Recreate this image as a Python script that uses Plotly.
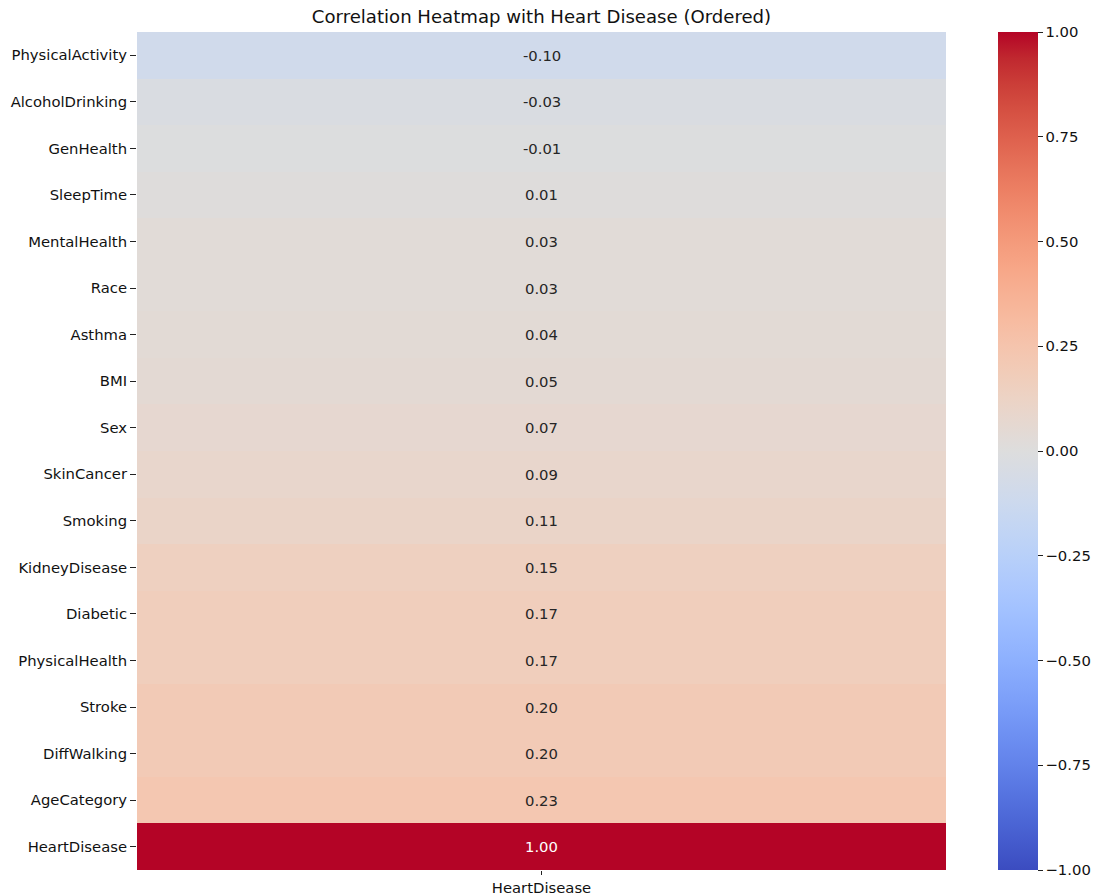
import plotly.graph_objects as go

# Correlation of each feature with HeartDisease, ordered ascending
features = [
    "PhysicalActivity", "AlcoholDrinking", "GenHealth", "SleepTime",
    "MentalHealth", "Race", "Asthma", "BMI", "Sex", "SkinCancer",
    "Smoking", "KidneyDisease", "Diabetic", "PhysicalHealth", "Stroke",
    "DiffWalking", "AgeCategory", "HeartDisease",
]
corr_values = [
    -0.10, -0.03, -0.01, 0.01, 0.03, 0.03, 0.04, 0.05, 0.07, 0.09,
    0.11, 0.15, 0.17, 0.17, 0.20, 0.20, 0.23, 1.00,
]
target = ["HeartDisease"]
colorbar_ticks = [-1.0, -0.75, -0.5, -0.25, 0.0, 0.25, 0.5, 0.75, 1.0]

# Diverging cool-warm palette
coolwarm_rgb = [
    (59, 76, 192), (68, 90, 204), (77, 104, 215), (87, 117, 225),
    (98, 130, 234), (108, 142, 241), (119, 154, 247), (130, 165, 251),
    (141, 176, 254), (152, 185, 255), (163, 194, 255), (174, 201, 253),
    (184, 208, 249), (194, 213, 244), (204, 217, 238), (213, 219, 230),
    (221, 221, 221), (229, 216, 209), (236, 211, 197), (241, 204, 184),
    (245, 196, 173), (247, 187, 160), (247, 177, 148), (247, 166, 135),
    (244, 154, 123), (241, 141, 111), (236, 127, 99), (229, 112, 88),
    (222, 96, 77), (213, 80, 66), (203, 62, 56), (192, 40, 47),
    (180, 4, 38),
]
n = len(coolwarm_rgb) - 1
colorscale = [[i / n, f"rgb{c}"] for i, c in enumerate(coolwarm_rgb)]

FONT = "DejaVu Sans"
TICK_SIZE = 14.8

fig = go.Figure(
    go.Heatmap(
        z=[[v] for v in corr_values],
        x=target,
        y=features,
        zmin=-1,
        zmax=1,
        colorscale=colorscale,
        colorbar=dict(
            x=(998 - 137) / 809,
            xanchor="left",
            xref="paper",
            xpad=0,
            ypad=0,
            y=0.5,
            yanchor="middle",
            len=1.0,
            lenmode="fraction",
            thickness=40,
            thicknessmode="pixels",
            outlinewidth=0,
            tickmode="array",
            tickvals=colorbar_ticks,
            tickformat=".2f",
            ticks="outside",
            ticklen=5,
            tickwidth=1,
            tickcolor="#222",
            tickfont=dict(family=FONT, size=TICK_SIZE, color="#111"),
        ),
        hovertemplate="%{y}: %{z:.2f}<extra></extra>",
    )
)

# Cell annotations, light text on dark cells
annotations = []
for name, val in zip(features, corr_values):
    annotations.append(
        dict(
            x=target[0],
            y=name,
            xref="x",
            yref="y",
            text=f"{val:.2f}",
            showarrow=False,
            font=dict(family=FONT, size=TICK_SIZE,
                      color="#ffffff" if abs(val) > 0.6 else "#262626"),
        )
    )

fig.update_layout(
    width=1099,
    height=896,
    margin=dict(l=137, r=153, t=32, b=26, autoexpand=False),
    paper_bgcolor="white",
    plot_bgcolor="white",
    font=dict(family=FONT, size=TICK_SIZE, color="#111"),
    title=dict(
        text="Correlation Heatmap with Heart Disease (Ordered)",
        x=0.5,
        xref="paper",
        xanchor="center",
        y=1 - 16.5 / 896,
        yref="container",
        yanchor="middle",
        font=dict(family=FONT, size=18.1, color="#111"),
    ),
    annotations=annotations,
)
fig.update_xaxes(
    ticks="outside", ticklen=4, tickwidth=1, tickcolor="#222",
    ticklabelstandoff=0,
    showgrid=False, zeroline=False, showline=False,
    tickfont=dict(family=FONT, size=TICK_SIZE, color="#111"),
)
fig.update_yaxes(
    autorange="reversed",
    ticks="outside", ticklen=6, tickwidth=1, tickcolor="#222",
    showgrid=False, zeroline=False, showline=False,
    tickfont=dict(family=FONT, size=TICK_SIZE, color="#111"),
)

fig.write_html("out.html")
